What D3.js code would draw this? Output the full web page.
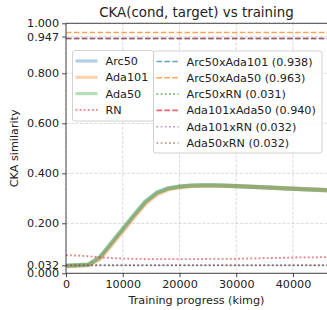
<!DOCTYPE html>
<html><head><meta charset="utf-8">
<script src="https://cdn.jsdelivr.net/npm/d3@7"></script>
<style>body{margin:0;background:#fff}svg{display:block;font-family:"DejaVu Sans",sans-serif}</style>
</head><body><svg id="c" width="327" height="310"></svg>
<script>
const kimg = [0,2000,4000,6000,8000,10000,12000,14000,16000,18000,20000,22000,24000,26000,28000,30000,32000,34000,36000,38000,40000,42000,44000,46000];
const arc50 = [0.030,0.032,0.034,0.063,0.119,0.175,0.231,0.285,0.321,0.339,0.347,0.351,0.352,0.352,0.351,0.349,0.347,0.345,0.343,0.341,0.339,0.337,0.335,0.333];
const ada101 = [0.029,0.031,0.033,0.058,0.113,0.168,0.224,0.278,0.315,0.335,0.344,0.349,0.351,0.351,0.350,0.349,0.347,0.345,0.343,0.341,0.339,0.337,0.335,0.333];
const ada50 = [0.031,0.033,0.036,0.066,0.122,0.178,0.234,0.288,0.323,0.340,0.347,0.351,0.352,0.352,0.351,0.349,0.347,0.345,0.343,0.340,0.338,0.336,0.334,0.332];
const rn = [0.072,0.071,0.068,0.064,0.061,0.059,0.058,0.057,0.057,0.057,0.057,0.057,0.057,0.058,0.058,0.058,0.059,0.060,0.061,0.062,0.063,0.064,0.064,0.065];
const seriesNames = ["Arc50","Ada101","Ada50","RN"];
const pairNames = ["Arc50xAda101","Arc50xAda50","Arc50xRN","Ada101xAda50","Ada101xRN","Ada50xRN"];
const pairValues = [0.938,0.963,0.031,0.940,0.032,0.032];
const yTicks = [0.000,0.032,0.200,0.400,0.600,0.800,0.947,1.000];
const xTicks = [0,10000,20000,30000,40000];

const svg = d3.select("#c");
const L=66, R=327, T=23.3, B=273.3;
const x = d3.scaleLinear().domain([0,46000]).range([L,R]);
const y = d3.scaleLinear().domain([0,1]).range([B,T]);
const tab = ["#1f77b4","#ff7f0e","#2ca02c","#d62728","#9467bd","#8c564b"];

// grid
const g = svg.append("g");
g.selectAll("line.gx").data(xTicks).join("line").attr("x1",d=>x(d)).attr("x2",d=>x(d)).attr("y1",T).attr("y2",B)
 .attr("stroke","#b0b0b0").attr("stroke-opacity",0.5).attr("stroke-width",0.9).attr("stroke-dasharray","3.3,1.4");
g.selectAll("line.gy").data(yTicks).join("line").attr("x1",L).attr("x2",R).attr("y1",d=>y(d)).attr("y2",d=>y(d))
 .attr("stroke","#b0b0b0").attr("stroke-opacity",0.5).attr("stroke-width",0.9).attr("stroke-dasharray","3.3,1.4");

svg.append("clipPath").attr("id","clip").append("rect").attr("x",L).attr("y",T).attr("width",R-L).attr("height",B-T);
const plot = svg.append("g").attr("clip-path","url(#clip)");
const line = d3.line().x((d,i)=>x(kimg[i])).y(d=>y(d));
const series = [arc50,ada101,ada50];
series.forEach((s,i)=>{
  plot.append("path").attr("d",line(s)).attr("fill","none").attr("stroke",tab[i]).attr("stroke-width",4.2)
   .attr("stroke-opacity",0.35).attr("stroke-linejoin","round");
});
plot.append("path").attr("d",line(rn)).attr("fill","none").attr("stroke",tab[3]).attr("stroke-width",1.8)
  .attr("stroke-opacity",0.6).attr("stroke-dasharray","1.8,2.3");

const dashFor = v => v>0.5 ? "5.5,2.4" : "1.7,2.5";
pairValues.forEach((v,i)=>{
  plot.append("line").attr("x1",L).attr("x2",R).attr("y1",y(v)).attr("y2",y(v))
   .attr("stroke",tab[i]).attr("stroke-width",1.6).attr("stroke-opacity",0.7).attr("stroke-dasharray",dashFor(v));
});

// axes
const fs = 11.2;
const ax = svg.append("g").attr("transform",`translate(0,${B})`).call(d3.axisBottom(x).tickValues(xTicks).tickFormat(d3.format("d")).tickSize(3.9).tickPadding(3));
const ay = svg.append("g").attr("transform",`translate(${L},0)`).call(d3.axisLeft(y).tickValues(yTicks).tickFormat(d3.format(".3f")).tickSize(3.9).tickPadding(3));
[ax,ay].forEach(a=>{a.select(".domain").remove();a.selectAll("text").attr("font-size",fs).attr("fill","#222").attr("font-family","DejaVu Sans");a.selectAll(".tick line").attr("stroke","#333").attr("stroke-width",0.9);});
svg.append("line").attr("x1",L).attr("x2",L).attr("y1",T).attr("y2",B).attr("stroke","#333").attr("stroke-width",0.9);
svg.append("line").attr("x1",L).attr("x2",R).attr("y1",B).attr("y2",B).attr("stroke","#333").attr("stroke-width",0.9);
svg.append("line").attr("x1",L).attr("x2",R).attr("y1",T).attr("y2",T).attr("stroke","#333").attr("stroke-width",0.9);

svg.append("text").attr("x",(L+R)/2).attr("y",16.5).attr("text-anchor","middle").attr("font-size",13.4).attr("fill","#222").text("CKA(cond, target) vs training");
svg.append("text").attr("x",(L+R)/2).attr("y",304).attr("text-anchor","middle").attr("font-size",fs).attr("fill","#222").text("Training progress (kimg)");
svg.append("text").attr("transform",`translate(18,${(T+B)/2}) rotate(-90)`).attr("text-anchor","middle").attr("font-size",fs).attr("fill","#222").text("CKA similarity");

// legends
function legend(x0,y0,w,h,items){
  const lg = svg.append("g");
  lg.append("rect").attr("x",x0).attr("y",y0).attr("width",w).attr("height",h).attr("rx",2.5)
    .attr("fill","#fff").attr("fill-opacity",0.8).attr("stroke","#ccc").attr("stroke-width",0.9);
  items.forEach((it,i)=>{
    const cy = y0+10.5+i*16.3;
    lg.append("line").attr("x1",x0+3).attr("x2",x0+25).attr("y1",cy).attr("y2",cy).attr("stroke",it.color)
      .attr("stroke-width",it.w).attr("stroke-opacity",it.op).attr("stroke-dasharray",it.dash||null);
    lg.append("text").attr("x",x0+33).attr("y",cy+4).attr("font-size",fs).attr("fill","#222").text(it.label);
  });
}
legend(72.5,50.5,81,70.5, seriesNames.map((n,i)=> i<3 ? {label:n,color:tab[i],w:3.2,op:0.35} : {label:n,color:tab[3],w:1.8,op:0.6,dash:"1.8,2.3"}));
legend(153.5,51,168.5,102, pairNames.map((n,i)=>({label:`${n} (${pairValues[i].toFixed(3)})`,color:tab[i],w:1.6,op:0.7,dash:dashFor(pairValues[i])})));
</script></body></html>
